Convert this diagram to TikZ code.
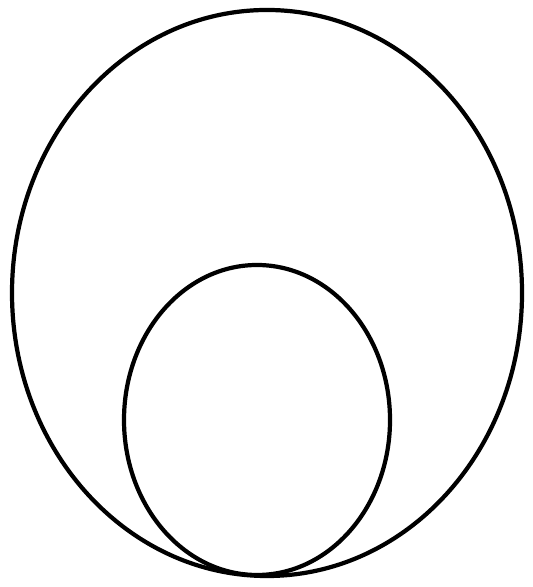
\documentclass[tikz,border=0pt]{standalone}
\usetikzlibrary{shapes.geometric}
\tikzset{
  loop/.style={draw,ellipse,line width=1.2pt,inner sep=0pt}
}
\begin{document}
\begin{tikzpicture}
  \useasboundingbox (0,0) rectangle (5.32,5.87);
  %% outer and inner ovals
  \node[loop,minimum width=5.10cm,minimum height=5.66cm] (outer) at (2.67,2.94) {};
  \node[loop,minimum width=2.66cm,minimum height=3.10cm] (inner) at (2.57,1.67) {};
\end{tikzpicture}
\end{document}
